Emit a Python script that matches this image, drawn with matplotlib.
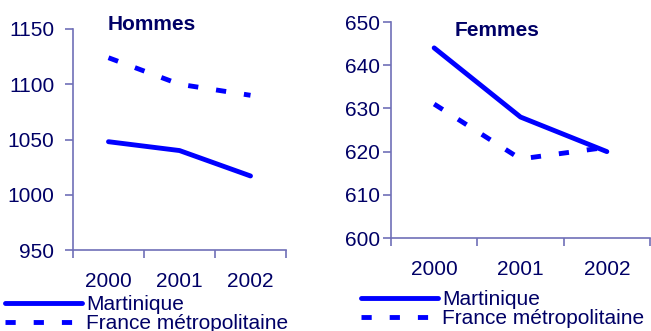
import numpy as np
import matplotlib
matplotlib.use('Agg')
import matplotlib.pyplot as plt

plt.rcParams['font.family'] = ['Liberation Sans', 'DejaVu Sans']

years = ['2000', '2001', '2002']
hommes_martinique = [1048, 1040, 1017]
hommes_france = [1124, 1100, 1090]
femmes_martinique = [644, 628, 620]
femmes_france = [631, 618.3, 621]

line_col = '#0000ff'
text_col = '#000066'
axis_col = '#7070b8'
fs = 15

fig = plt.figure(figsize=(6.51, 3.31), dpi=100)
W, H = 651, 331

def make_ax(x0, x1, y0, y1):
    return fig.add_axes([x0 / W, 1 - y1 / H, (x1 - x0) / W, (y1 - y0) / H])

def style(ax, ylim, yticks, ypad, title, title_xy):
    x = np.arange(len(years))
    ax.set_xlim(-0.5, len(years) - 0.5)
    ax.set_ylim(*ylim)
    ax.set_yticks(yticks)
    ax.set_xticks(x)
    ax.set_xticklabels(years)
    ax.set_xticks(np.arange(-0.5, len(years)), minor=True)
    ax.tick_params(axis='x', which='major', length=0, pad=16, labelsize=fs, labelcolor=text_col)
    ax.tick_params(axis='x', which='minor', length=6, color=axis_col, width=1.2, direction='out')
    ax.tick_params(axis='y', length=6, color=axis_col, width=1.2, labelsize=fs,
                   labelcolor=text_col, pad=ypad)
    for s in ['top', 'right']:
        ax.spines[s].set_visible(False)
    for s in ['left', 'bottom']:
        ax.spines[s].set_color(axis_col)
        ax.spines[s].set_linewidth(1.2)
    ax.patch.set_alpha(0)
    fig.text(title_xy[0] / W, 1 - title_xy[1] / H, title, fontsize=fs, fontweight='bold',
             color=text_col, va='center', ha='left')

def draw(ax, mart, fra, leg_x, leg_y):
    x = np.arange(len(years))
    l1, = ax.plot(x, mart, color=line_col, lw=3.5, solid_capstyle='round', label='Martinique')
    l2, = ax.plot(x, fra, color=line_col, lw=3.5, dashes=(2.1, 3.7), dash_capstyle='butt',
                  label='France métropolitaine')
    ax.legend(handles=[l1, l2], loc='upper left', bbox_to_anchor=(leg_x / W, 1 - leg_y / H),
              bbox_transform=fig.transFigure, frameon=False, fontsize=fs, handlelength=3.7,
              handletextpad=0.2, labelspacing=0.0, borderpad=0, borderaxespad=0,
              labelcolor=text_col)

ax1 = make_ax(73, 286, 29, 250)
style(ax1, (950, 1150), [950, 1000, 1050, 1100, 1150], 7.5, 'Hommes', (108, 25))
draw(ax1, hommes_martinique, hommes_france, 5, 295)

ax2 = make_ax(391, 650, 22, 238)
style(ax2, (600, 650), [600, 610, 620, 630, 640, 650], 2, 'Femmes', (455, 30))
draw(ax2, femmes_martinique, femmes_france, 361, 290)

fig.savefig('out.png', dpi=100)
